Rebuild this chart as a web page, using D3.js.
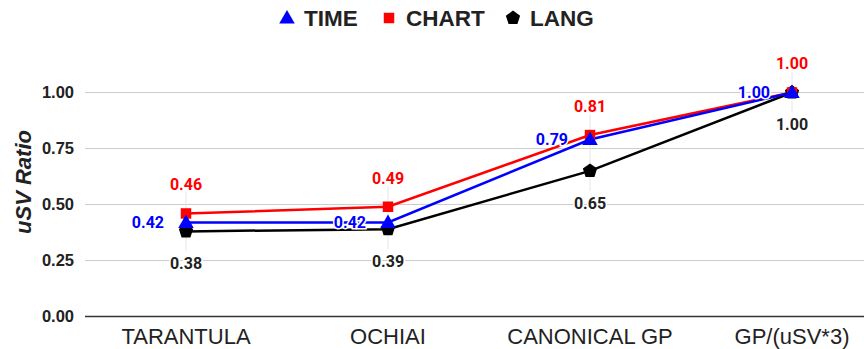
<!DOCTYPE html>
<html>
<head>
<meta charset="utf-8">
<script src="https://cdn.jsdelivr.net/npm/d3@7"></script>
<style>
  body { margin: 0; background: #fff; }
  svg { display: block; }
</style>
</head>
<body>
<div id="chart"></div>
<script>
// data
const categories = ['TARANTULA', 'OCHIAI', 'CANONICAL GP', 'GP/(uSV*3)']
const timeValues = [0.42, 0.42, 0.79, 1.00]
const chartValues = [0.46, 0.49, 0.81, 1.00]
const langValues = [0.38, 0.39, 0.65, 1.00]
const yTicks = [0, 0.25, 0.5, 0.75, 1.0]

const series = [
  {name: 'LANG', values: langValues, color: '#000000', symbol: 'pentagon', label: 'below'},
  {name: 'CHART', values: chartValues, color: '#ff0000', symbol: 'square', label: 'above'},
  {name: 'TIME', values: timeValues, color: '#0000ff', symbol: 'triangle', label: 'left'}
]
const legendOrder = ['TIME', 'CHART', 'LANG']

const width = 864
const height = 349
const margin = {top: 92.5, right: -29, bottom: 32.5, left: 85}

const svg = d3.select('#chart')
  .append('svg')
  .attr('width', width)
  .attr('height', height)

const x = d3.scalePoint()
  .domain(categories)
  .range([margin.left, width - margin.right])
  .padding(0.5)

const y = d3.scaleLinear()
  .domain([0, 1])
  .range([height - margin.bottom, margin.top])

const axisFont = '"Liberation Sans", Arial, sans-serif'
const labelFont = 'Roboto, "Liberation Sans", sans-serif'

// pentagon path around origin
function pentagon (r) {
  const pts = d3.range(5).map(i => {
    const a = -Math.PI / 2 + i * 2 * Math.PI / 5
    return [r * Math.cos(a), r * Math.sin(a)]
  })
  return 'M' + pts.map(p => p.join(',')).join('L') + 'Z'
}

function markerPath (kind) {
  if (kind === 'pentagon') return pentagon(7.5)
  if (kind === 'square') return d3.symbol(d3.symbolSquare, 110)()
  return d3.symbol(d3.symbolTriangle, 105)()
}

// grid
svg.append('g')
  .selectAll('line')
  .data(yTicks.filter(t => t > 0))
  .join('line')
  .attr('x1', margin.left)
  .attr('x2', width)
  .attr('y1', d => y(d))
  .attr('y2', d => y(d))
  .attr('stroke', '#cccccc')
  .attr('stroke-width', 1)

// faint vertical connectors at each category
svg.append('g')
  .selectAll('line')
  .data(categories)
  .join('line')
  .attr('x1', d => x(d))
  .attr('x2', d => x(d))
  .attr('y1', (d, i) => y(d3.max(series, s => s.values[i])) - 21)
  .attr('y2', (d, i) => y(d3.min(series, s => s.values[i])) + 20)
  .attr('stroke', '#e6e6e6')
  .attr('stroke-width', 1)

// baseline
svg.append('line')
  .attr('x1', margin.left)
  .attr('x2', width)
  .attr('y1', y(0))
  .attr('y2', y(0))
  .attr('stroke', '#333333')
  .attr('stroke-width', 1.5)

// y tick labels
svg.append('g')
  .selectAll('text')
  .data(yTicks)
  .join('text')
  .attr('x', 74)
  .attr('y', d => y(d))
  .attr('dy', '0.36em')
  .attr('text-anchor', 'end')
  .style('font-family', axisFont)
  .style('font-weight', 'bold')
  .style('font-size', '16.5px')
  .style('fill', '#222')
  .text(d => d.toFixed(2))

// x labels
svg.append('g')
  .selectAll('text')
  .data(categories)
  .join('text')
  .attr('x', d => x(d))
  .attr('y', 344)
  .attr('text-anchor', 'middle')
  .style('font-family', axisFont)
  .style('font-size', '22px')
  .style('fill', '#222')
  .text(d => d)

// y axis title
svg.append('text')
  .attr('transform', `translate(31, ${182}) rotate(-90)`)
  .attr('text-anchor', 'middle')
  .style('font-family', axisFont)
  .style('font-weight', 'bold')
  .style('font-style', 'italic')
  .style('font-size', '22px')
  .style('fill', '#222')
  .text('uSV Ratio')

// lines
const line = d3.line()
  .x((d, i) => x(categories[i]))
  .y(d => y(d))

series.forEach(s => {
  svg.append('path')
    .datum(s.values)
    .attr('d', line)
    .attr('fill', 'none')
    .attr('stroke', s.color)
    .attr('stroke-width', 2.5)
})

// markers
series.forEach(s => {
  svg.append('g')
    .selectAll('path')
    .data(s.values)
    .join('path')
    .attr('d', markerPath(s.symbol))
    .attr('transform', (d, i) => `translate(${x(categories[i])},${y(d) + (s.symbol === 'triangle' ? 1 : 0)})`)
    .attr('fill', s.color)
})

// data labels
series.forEach(s => {
  svg.append('g')
    .selectAll('text')
    .data(s.values)
    .join('text')
    .attr('x', (d, i) => x(categories[i]) + (s.label === 'left' ? -22 : 0))
    .attr('y', d => y(d) + (s.label === 'above' ? -29 : s.label === 'below' ? 32 : 0))
    .attr('dy', '0.36em')
    .attr('text-anchor', s.label === 'left' ? 'end' : 'middle')
    .style('font-family', labelFont)
    .style('font-weight', 'bold')
    .style('font-size', '16px')
    .style('fill', s.color === '#000000' ? '#222' : s.color)
    .style('stroke', '#fff')
    .style('stroke-width', 3)
    .style('paint-order', 'stroke')
    .text(d => d.toFixed(2))
})

// legend
const legendX = {TIME: 287, CHART: 389, LANG: 513}
const legend = svg.append('g')
legendOrder.forEach(name => {
  const s = series.find(d => d.name === name)
  const cx = legendX[name]
  legend.append('path')
    .attr('d', markerPath(s.symbol))
    .attr('transform', `translate(${cx},${18 + (s.symbol === 'triangle' ? 1 : 0)})`)
    .attr('fill', s.color)
  legend.append('text')
    .attr('x', cx + 17)
    .attr('y', 18)
    .attr('dy', '0.36em')
    .style('font-family', axisFont)
    .style('font-weight', 'bold')
    .style('font-size', '22.5px')
    .style('fill', '#222')
    .text(name)
})
</script>
</body>
</html>
